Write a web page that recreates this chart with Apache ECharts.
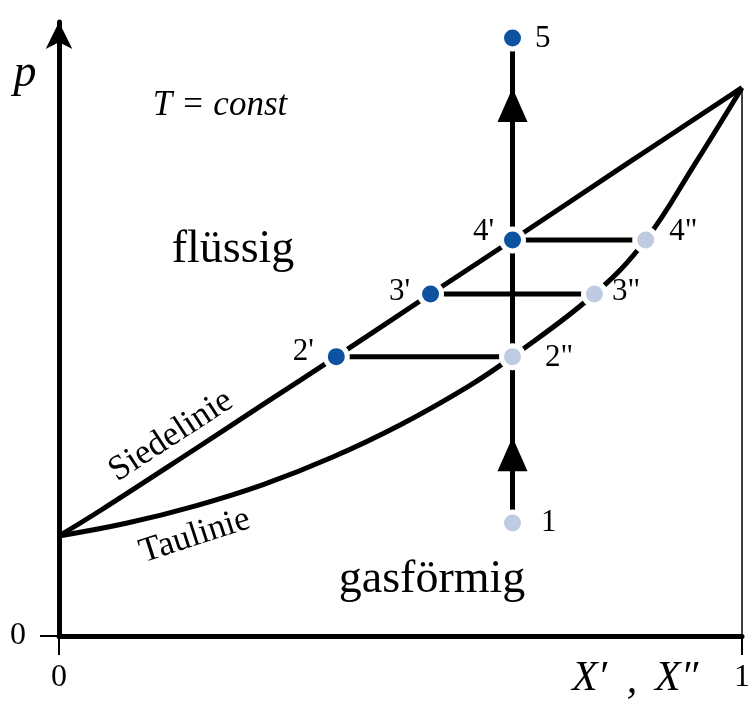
<!DOCTYPE html>
<html><head><meta charset="utf-8">
<script src="https://cdn.jsdelivr.net/npm/echarts@6/dist/echarts.min.js"></script>
<style>html,body{margin:0;padding:0;background:#fff}#c{width:753px;height:701px}</style>
</head><body><div id="c"></div>
<script>
// Siedelinie (bubble line): mole fraction X' and pressure p (relative units)
const siedeX = [0, 0.06, 0.20, 0.30, 0.406, 0.544, 0.664, 0.83, 1];
const siedeP = [0.163, 0.204, 0.305, 0.378, 0.455, 0.557, 0.645, 0.768, 0.893];
// Taulinie (dew line): X'' and p
const tauX = [0, 0.1, 0.2, 0.3, 0.4, 0.5, 0.6, 0.664, 0.784, 0.859, 0.93, 1];
const tauP = [0.163, 0.184, 0.212, 0.247, 0.291, 0.344, 0.407, 0.455, 0.557, 0.645, 0.767, 0.893];
// State points on the liquid side (dark) and vapour side (light)
const darkNames = ["2'", "3'", "4'", "5"];
const darkX = [0.406, 0.544, 0.664, 0.664];
const darkP = [0.455, 0.557, 0.645, 0.974];
const lightNames = ["1", "2\"", "3\"", "4\""];
const lightX = [0.664, 0.664, 0.784, 0.859];
const lightP = [0.184, 0.455, 0.557, 0.645];
// Direction arrows on the isothermal compression path
const arrowX = [0.664, 0.664];
const arrowP = [0.296, 0.865];
// Axis tick labels
const xTickLabels = ["0", "1"];
const yTickLabels = ["0"];

const serif = '"Liberation Serif", "Times New Roman", serif';
const dark = '#0D52A0', light = '#BFCBE2';
const zip = (xs, ys) => xs.map((x, i) => [x, ys[i]]);

// label placement per point name (style only)
const labelPos = {
  "5": {position: 'right', distance: 9, offset: [0, 1]},
  "4'": {position: 'left', distance: 5, offset: [0, -8]},
  "3'": {position: 'left', distance: 7, offset: [0, -2]},
  "2'": {position: 'left', distance: 9, offset: [0, -5]},
  "1": {position: 'right', distance: 15, offset: [0, 0]},
  "2\"": {position: 'right', distance: 19, offset: [0, 1]},
  "3\"": {position: 'right', distance: 4, offset: [0, -2]},
  "4\"": {position: 'right', distance: 10, offset: [0, -8]}
};
function dots(names, xs, ps) {
  return names.map((n, i) => ({
    name: n, value: [xs[i], ps[i]],
    label: Object.assign({show: true, formatter: n, fontSize: 31, fontFamily: serif, color: '#000'}, labelPos[n])
  }));
}
const blackLine = (data, w) => ({
  type: 'line', data, symbol: 'none', silent: true, animation: false,
  lineStyle: {color: '#000', width: w, opacity: 1}, z: 2
});

// tie lines between coexisting phases
const ties = [1, 2, 3].map(k => blackLine([[darkX[k - 1], darkP[k - 1]], [lightX[k], lightP[k]]], 5));

const txt = (x, y, text, size, italic, rot, align) => ({
  type: 'text', x, y, rotation: (rot || 0) * Math.PI / 180,
  style: {text, fontSize: size, fontStyle: italic ? 'italic' : 'normal', fontFamily: serif,
    fill: '#000', align: align || 'center', verticalAlign: 'middle'}
});

const option = {
  animation: false,
  grid: {left: 59, right: 4, top: 22, bottom: 65},
  xAxis: {
    type: 'value', min: 0, max: 1, interval: 1,
    axisLine: {lineStyle: {color: '#000', width: 5}},
    axisTick: {show: true, length: 19, lineStyle: {color: '#000', width: 2}},
    axisLabel: {fontSize: 32, fontFamily: serif, color: '#000', margin: 26,
      formatter: v => xTickLabels[Math.round(v)]},
    splitLine: {show: false}
  },
  yAxis: {
    type: 'value', min: 0, max: 1,
    axisLine: {show: true, symbol: ['none', 'arrow'], symbolSize: [20, 27], lineStyle: {color: '#000', width: 5}},
    axisTick: {show: true, length: 19, customValues: [0], lineStyle: {color: '#000', width: 2}},
    axisLabel: {fontSize: 32, fontFamily: serif, color: '#000', margin: 33, customValues: [0],
      formatter: v => yTickLabels[0]},
    splitLine: {show: false}
  },
  series: [
    Object.assign(blackLine(zip(siedeX, siedeP), 5), {smooth: 0.4}),
    Object.assign(blackLine(zip(tauX, tauP), 5), {smooth: 0.4}),
    ...ties,
    blackLine([[lightX[0], lightP[0]], [darkX[3], darkP[3]]], 5),
    blackLine([[tauX[tauX.length - 1], tauP[tauP.length - 1]], [1, 0]], 1.5),
    {type: 'scatter', data: zip(arrowX, arrowP), symbol: 'triangle', symbolSize: [30, 34],
      itemStyle: {color: '#000', opacity: 1}, z: 3, silent: true},
    {type: 'scatter', data: dots(darkNames, darkX, darkP), symbolSize: 22,
      itemStyle: {color: dark, borderColor: '#fff', borderWidth: 5, opacity: 1}, z: 4, silent: true},
    {type: 'scatter', data: dots(lightNames, lightX, lightP), symbolSize: 22,
      itemStyle: {color: light, borderColor: '#fff', borderWidth: 5, opacity: 1}, z: 4, silent: true}
  ],
  graphic: [
    txt(25, 74, 'p', 46, true),
    txt(220, 106, 'T = const', 35, true),
    txt(233, 250, 'flüssig', 46),
    txt(432, 580, 'gasförmig', 46),
    txt(171, 436, 'Siedelinie', 35, false, 33),
    txt(195, 536, 'Taulinie', 35, false, 18),
    txt(572, 679, 'X′', 42, true, 0, 'left'),
    txt(632, 681, ',', 42, true),
    txt(655, 679, 'X″', 42, true, 0, 'left')
  ]
};
const chart = echarts.init(document.getElementById('c'), null, {renderer: 'canvas'});
chart.setOption(option);
</script></body></html>
